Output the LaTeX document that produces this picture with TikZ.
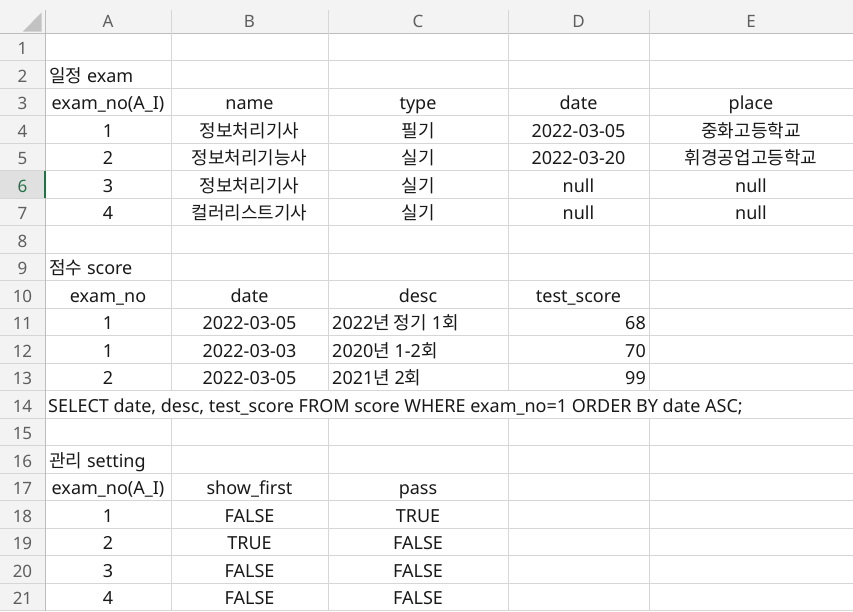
\documentclass[tikz,border=0pt]{standalone}
\usepackage{fontspec}
\setmainfont{Noto Sans}
\newfontfamily\krfont{Noto Sans CJK KR}
\newcommand{\kr}[1]{{\krfont #1}}
\definecolor{hdrbg}{HTML}{F3F3F3}
\definecolor{hdrsel}{HTML}{E0E0E0}
\definecolor{gridc}{HTML}{D6D6D6}
\definecolor{hdrline}{HTML}{BDBDBD}
\definecolor{hdrtext}{HTML}{5F5F5F}
\definecolor{selgreen}{HTML}{217346}
\definecolor{cornertri}{HTML}{C2C2C2}
\newcommand{\cellfont}{\fontsize{18}{20}\selectfont}
\newcommand{\hdrfont}{\fontsize{17}{20}\selectfont}

\begin{document}
\begin{tikzpicture}[x=1pt,y=-1pt,
    declare function={top(\r)=33+(\r-1)*27.52; bot(\r)=33+\r*27.52; base(\r)=33+\r*27.52-6;},
    gridline/.style={draw=gridc, line width=1pt},
    cell/.style={anchor=base, inner sep=0pt, font=\cellfont, text=black!90},
    lcell/.style={cell, anchor=base west},
    rcell/.style={cell, anchor=base east},
    hdr/.style={cell, font=\hdrfont, text=hdrtext}]
    \useasboundingbox (0,0) rectangle (853,611);

    % Header band, row number band, selected row
    \fill[hdrbg] (0,0) rectangle (853,33);
    \fill[hdrbg] (0,33) rectangle (45,611);
    \fill[hdrsel] (0,{top(6)}) rectangle (45,{bot(6)});
    \fill[cornertri] (23,31.5) -- (41.5,12.5) -- (41.5,31.5) -- cycle;

    % Horizontal grid lines
    \foreach \r in {1,...,21}
        \draw[gridline] (0,{bot(\r)}) -- (853,{bot(\r)});
    \draw[draw=hdrline, line width=1pt] (0,33) -- (853,33);

    % Vertical grid lines (row 14 is covered by the query text)
    \draw[draw=hdrline, line width=1pt] (45,10) -- (45,611);
    \foreach \x in {171,328,508,649} {
        \draw[gridline] (\x,10) -- (\x,{top(14)});
        \draw[gridline] (\x,{bot(14)}) -- (\x,611);
    }
    \fill[selgreen] (43.5,{top(6)}) rectangle (45.5,{bot(6)});

    % Column letters
    \node[hdr] (colA) at (108,27) {A};
    \node[hdr] (colB) at (249.5,27) {B};
    \node[hdr] (colC) at (418,27) {C};
    \node[hdr] (colD) at (578.5,27) {D};
    \node[hdr] (colE) at (751,27) {E};

    % Row numbers
    \foreach \r in {1,...,21} {
        \ifnum\r=6
            \node[hdr, text=selgreen, font=\hdrfont\bfseries] (row\r) at (22.5,{base(\r)}) {\r};
        \else
            \node[hdr] (row\r) at (22.5,{base(\r)}) {\r};
        \fi
    }

    % Table exam
    \node[lcell] (a2) at (49,{base(2)}) {\kr{일정} exam};
    \node[cell] (a3) at (108,{base(3)}) {exam\_no(A\_I)};
    \node[cell] (b3) at (249.5,{base(3)}) {name};
    \node[cell] (c3) at (418,{base(3)}) {type};
    \node[cell] (d3) at (578.5,{base(3)}) {date};
    \node[cell] (e3) at (751,{base(3)}) {place};
    \node[cell] (a4) at (108,{base(4)}) {1};
    \node[cell] (b4) at (249.5,{base(4)}) {\kr{정보처리기사}};
    \node[cell] (c4) at (418,{base(4)}) {\kr{필기}};
    \node[cell] (d4) at (578.5,{base(4)}) {2022-03-05};
    \node[cell] (e4) at (751,{base(4)}) {\kr{중화고등학교}};
    \node[cell] (a5) at (108,{base(5)}) {2};
    \node[cell] (b5) at (249.5,{base(5)}) {\kr{정보처리기능사}};
    \node[cell] (c5) at (418,{base(5)}) {\kr{실기}};
    \node[cell] (d5) at (578.5,{base(5)}) {2022-03-20};
    \node[cell] (e5) at (751,{base(5)}) {\kr{휘경공업고등학교}};
    \node[cell] (a6) at (108,{base(6)}) {3};
    \node[cell] (b6) at (249.5,{base(6)}) {\kr{정보처리기사}};
    \node[cell] (c6) at (418,{base(6)}) {\kr{실기}};
    \node[cell] (d6) at (578.5,{base(6)}) {null};
    \node[cell] (e6) at (751,{base(6)}) {null};
    \node[cell] (a7) at (108,{base(7)}) {4};
    \node[cell] (b7) at (249.5,{base(7)}) {\kr{컬러리스트기사}};
    \node[cell] (c7) at (418,{base(7)}) {\kr{실기}};
    \node[cell] (d7) at (578.5,{base(7)}) {null};
    \node[cell] (e7) at (751,{base(7)}) {null};

    % Table score
    \node[lcell] (a9) at (49,{base(9)}) {\kr{점수} score};
    \node[cell] (a10) at (108,{base(10)}) {exam\_no};
    \node[cell] (b10) at (249.5,{base(10)}) {date};
    \node[cell] (c10) at (418,{base(10)}) {desc};
    \node[cell] (d10) at (578.5,{base(10)}) {test\_score};
    \node[cell] (a11) at (108,{base(11)}) {1};
    \node[cell] (b11) at (249.5,{base(11)}) {2022-03-05};
    \node[lcell] (c11) at (332,{base(11)}) {2022\kr{년 정기} 1\kr{회}};
    \node[rcell] (d11) at (646,{base(11)}) {68};
    \node[cell] (a12) at (108,{base(12)}) {1};
    \node[cell] (b12) at (249.5,{base(12)}) {2022-03-03};
    \node[lcell] (c12) at (332,{base(12)}) {2020\kr{년} 1-2\kr{회}};
    \node[rcell] (d12) at (646,{base(12)}) {70};
    \node[cell] (a13) at (108,{base(13)}) {2};
    \node[cell] (b13) at (249.5,{base(13)}) {2022-03-05};
    \node[lcell] (c13) at (332,{base(13)}) {2021\kr{년} 2\kr{회}};
    \node[rcell] (d13) at (646,{base(13)}) {99};
    \node[lcell] (a14) at (48,{base(14)}) {SELECT date, desc, test\_score FROM score WHERE exam\_no=1 ORDER BY date ASC;};

    % Table setting
    \node[lcell] (a16) at (49,{base(16)}) {\kr{관리} setting};
    \node[cell] (a17) at (108,{base(17)}) {exam\_no(A\_I)};
    \node[cell] (b17) at (249.5,{base(17)}) {show\_first};
    \node[cell] (c17) at (418,{base(17)}) {pass};
    \node[cell] (a18) at (108,{base(18)}) {1};
    \node[cell] (b18) at (249.5,{base(18)}) {FALSE};
    \node[cell] (c18) at (418,{base(18)}) {TRUE};
    \node[cell] (a19) at (108,{base(19)}) {2};
    \node[cell] (b19) at (249.5,{base(19)}) {TRUE};
    \node[cell] (c19) at (418,{base(19)}) {FALSE};
    \node[cell] (a20) at (108,{base(20)}) {3};
    \node[cell] (b20) at (249.5,{base(20)}) {FALSE};
    \node[cell] (c20) at (418,{base(20)}) {FALSE};
    \node[cell] (a21) at (108,{base(21)}) {4};
    \node[cell] (b21) at (249.5,{base(21)}) {FALSE};
    \node[cell] (c21) at (418,{base(21)}) {FALSE};
\end{tikzpicture}
\end{document}
